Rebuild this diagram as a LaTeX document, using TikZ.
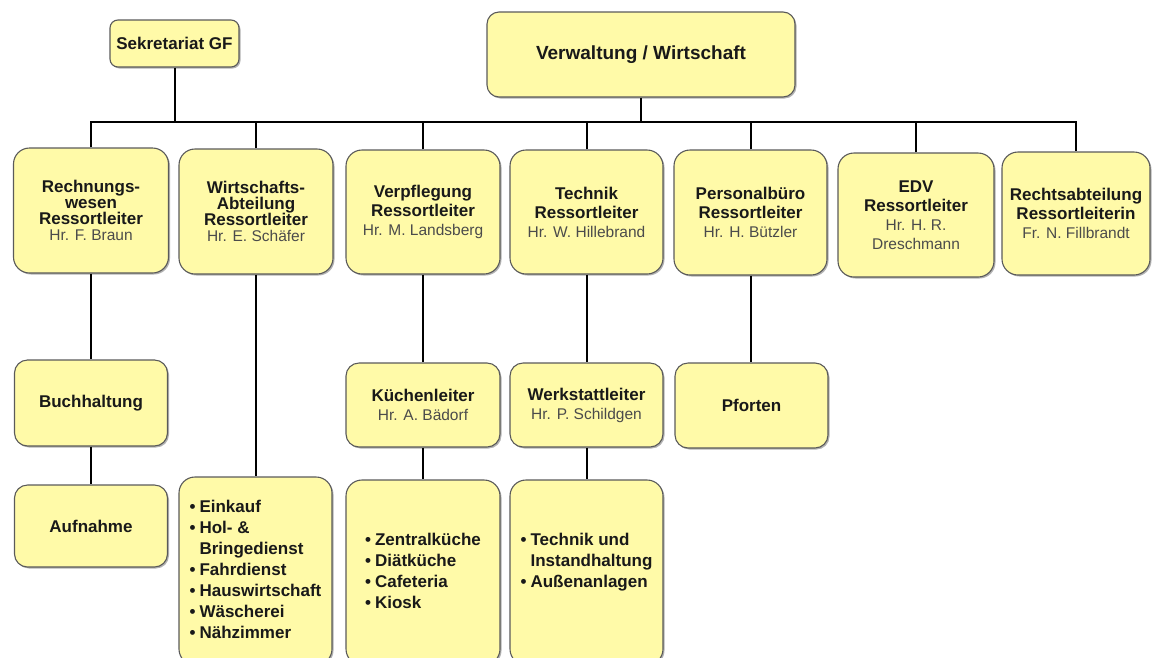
\documentclass[tikz,border=0pt]{standalone}
\usepackage{fontspec}
\setmainfont{Liberation Sans}
\usetikzlibrary{shadows}
\definecolor{boxfill}{RGB}{255,250,168}
\definecolor{boxline}{RGB}{90,90,90}
\definecolor{txt}{RGB}{25,25,25}
\definecolor{nametxt}{RGB}{75,75,75}
\newcommand{\nm}[1]{{\fontsize{15.5}{19}\selectfont\mdseries\color{nametxt}#1}}
\newcommand{\bul}{\textbullet}
\begin{document}
\begin{tikzpicture}[x=1pt,y=-1pt,
  box/.style={draw=boxline, line width=1.1pt, fill=boxfill, rounded corners=#1,
    inner sep=0pt, align=center, text=txt,
    font=\fontsize{17}{19}\selectfont\bfseries,
    drop shadow={shadow xshift=1.5pt, shadow yshift=-1.5pt, opacity=0.3, fill=black}},
  box/.default=16pt,
  tight/.style={font=\fontsize{17}{16}\selectfont\bfseries},
  listbox/.style={font=\fontsize{17}{21}\selectfont\bfseries},
  conn/.style={line width=2pt, black}]
\useasboundingbox (0,0) rectangle (1153,657);

% top level
\node[box=8pt, minimum width=129pt, minimum height=47pt] (sek) at (174.5,43.5) {Sekretariat GF};
\node[box=12pt, minimum width=308pt, minimum height=85pt, font=\fontsize{19}{21}\selectfont\bfseries] (verw) at (641,54.5) {Verwaltung / Wirtschaft};

% second row
\node[box, tight, minimum width=155pt, minimum height=125pt] (r1) at (91,210.5)
  {Rechnungs-\\wesen\\Ressortleiter\\\nm{Hr. F. Braun}};
\node[box, tight, minimum width=154pt, minimum height=125pt] (r2) at (256,211.5)
  {Wirtschafts-\\Abteilung\\Ressortleiter\\\nm{Hr. E. Schäfer}};
\node[box, minimum width=154pt, minimum height=124pt] (r3) at (423,212)
  {Verpflegung\\Ressortleiter\\\nm{Hr. M. Landsberg}};
\node[box, minimum width=153pt, minimum height=124pt] (r4) at (586.5,212)
  {Technik\\Ressortleiter\\\nm{Hr. W. Hillebrand}};
\node[box, minimum width=153pt, minimum height=125pt] (r5) at (750.5,212.5)
  {Personalbüro\\Ressortleiter\\\nm{Hr. H. Bützler}};
\node[box, minimum width=156pt, minimum height=124pt] (r6) at (916,215)
  {EDV\\Ressortleiter\\\nm{Hr. H. R.}\\\nm{Dreschmann}};
\node[box, minimum width=148pt, minimum height=123pt] (r7) at (1076,213.5)
  {Rechtsabteilung\\Ressortleiterin\\\nm{Fr. N. Fillbrandt}};

% third row
\node[box=13pt, minimum width=153pt, minimum height=86pt] (buch) at (91,403) {Buchhaltung};
\node[box=13pt, minimum width=154pt, minimum height=84pt] (kuech) at (423,405)
  {Küchenleiter\\\nm{Hr. A. Bädorf}};
\node[box=13pt, minimum width=153pt, minimum height=84pt] (werk) at (586.5,405)
  {Werkstattleiter\\\nm{Hr. P. Schildgen}};
\node[box=13pt, minimum width=153pt, minimum height=85pt] (pfort) at (751.5,405.5) {Pforten};

% fourth row
\node[box=13pt, minimum width=153pt, minimum height=82pt] (aufn) at (91,526) {Aufnahme};
\node[box, listbox, minimum width=153pt, minimum height=188pt] (l2) at (255.5,571)
  {\begin{tabular}{@{}l@{\hspace{4pt}}l@{}}
   \bul & Einkauf\\
   \bul & Hol- \&\\
        & Bringedienst\\
   \bul & Fahrdienst\\
   \bul & Hauswirtschaft\\
   \bul & Wäscherei\\
   \bul & Nähzimmer
   \end{tabular}};
\node[box, listbox, minimum width=154pt, minimum height=185pt] (l3) at (423,572.5)
  {\begin{tabular}{@{}l@{\hspace{4pt}}l@{}}
   \bul & Zentralküche\\
   \bul & Diätküche\\
   \bul & Cafeteria\\
   \bul & Kiosk
   \end{tabular}};
\node[box, listbox, minimum width=153pt, minimum height=185pt] (l4) at (586.5,572.5)
  {\begin{tabular}{@{}l@{\hspace{4pt}}l@{}}
   \bul & Technik und\\
        & Instandhaltung\\
   \bul & Außenanlagen\\
        & \mbox{}
   \end{tabular}};

% connectors
\coordinate (bus) at (0,122);
\draw[conn] (sek.south) -- (sek.south |- bus);
\draw[conn] (verw.south) -- (verw.south |- bus);
\draw[conn] (r1.north) -- (r1.north |- bus) -| (r7.north);
\foreach \n in {r2,r3,r4,r5,r6} \draw[conn] (\n.north) -- (\n.north |- bus);
\draw[conn] (r1.south) -- (buch.north);
\draw[conn] (buch.south) -- (aufn.north);
\draw[conn] (r2.south) -- (r2.south |- l2.north);
\draw[conn] (r3.south) -- (kuech.north);
\draw[conn] (kuech.south) -- (kuech.south |- l3.north);
\draw[conn] (r4.south) -- (werk.north);
\draw[conn] (werk.south) -- (werk.south |- l4.north);
\draw[conn] (r5.south) -- (r5.south |- pfort.north);
\end{tikzpicture}
\end{document}
